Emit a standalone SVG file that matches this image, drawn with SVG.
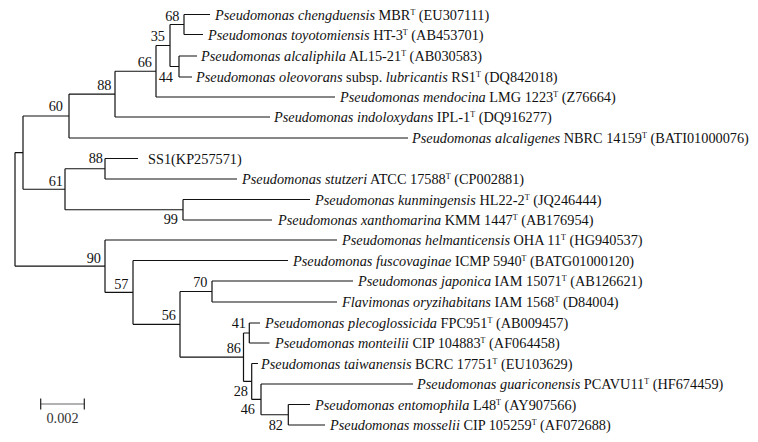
<svg xmlns="http://www.w3.org/2000/svg" width="758" height="442" viewBox="0 0 758 442">
<style>
text{font-family:"Liberation Serif","Times New Roman",serif;font-size:14.3px;fill:#111}
.i{font-style:italic}
.s{font-size:8px}
.b{text-anchor:end}
#edges path{fill:none;stroke:#111;stroke-width:1.2}
</style>
<rect width="758" height="442" fill="#fff"/>
<g id="edges">
<path d="M15 152.6V266.2M15 152.6H23M15 266.2H105"/>
<path d="M23 116V189.25M23 116H69M23 189.25H65"/>
<path d="M69 94.1V138M69 94.1H115M69 138H408"/>
<path d="M115 71.25V117M115 71.25H156M115 117H270"/>
<path d="M156 45.5V97M156 45.5H170M156 97H335"/>
<path d="M170 24.5V66.5M170 24.5H184M170 66.5H179"/>
<path d="M184 14.5V34.5M184 14.5H210M184 34.5H203"/>
<path d="M179 56V77M179 56H197M179 77H192"/>
<path d="M65 168.75V209.75M65 168.75H105M65 209.75H183"/>
<path d="M105 158.5V179M105 158.5H138M105 179H237"/>
<path d="M183 199.5V220M183 199.5H310M183 220H272"/>
<path d="M105 240V292.4M105 240H337M105 292.4H133"/>
<path d="M133 260.5V324.35M133 260.5H288M133 324.35H180"/>
<path d="M180 291.5V357.2M180 291.5H212M180 357.2H243.5"/>
<path d="M212 281V302M212 281H353M212 302H337"/>
<path d="M243.5 333V381.4M243.5 333H249.3M243.5 381.4H251.7"/>
<path d="M249.3 323V343M249.3 323H260M249.3 343H269.5"/>
<path d="M251.7 363.5V399.4M251.7 363.5H258M251.7 399.4H261"/>
<path d="M261 384V414.75M261 384H413M261 414.75H288.3"/>
<path d="M288.3 404.5V425M288.3 404.5H310M288.3 425H325"/>
</g>
<g id="leaf-chengduensis"><text x="215" y="19.5"><tspan class="i">Pseudomonas chengduensis</tspan> MBR<tspan class="s" dy="-5">T</tspan><tspan dy="5"> (EU307111)</tspan></text></g>
<g id="leaf-toyotomiensis"><text x="208" y="39.5"><tspan class="i">Pseudomonas toyotomiensis</tspan> HT-3<tspan class="s" dy="-5">T</tspan><tspan dy="5"> (AB453701)</tspan></text></g>
<g id="leaf-alcaliphila"><text x="201" y="61"><tspan class="i">Pseudomonas alcaliphila</tspan> AL15-21<tspan class="s" dy="-5">T</tspan><tspan dy="5"> (AB030583)</tspan></text></g>
<g id="leaf-oleovorans"><text x="196" y="82"><tspan class="i">Pseudomonas oleovorans</tspan> subsp. <tspan class="i">lubricantis</tspan> RS1<tspan class="s" dy="-5">T</tspan><tspan dy="5"> (DQ842018)</tspan></text></g>
<g id="leaf-mendocina"><text x="340" y="102"><tspan class="i">Pseudomonas mendocina</tspan> LMG 1223<tspan class="s" dy="-5">T</tspan><tspan dy="5"> (Z76664)</tspan></text></g>
<g id="leaf-indoloxydans"><text x="274" y="122"><tspan class="i">Pseudomonas indoloxydans</tspan> IPL-1<tspan class="s" dy="-5">T</tspan><tspan dy="5"> (DQ916277)</tspan></text></g>
<g id="leaf-alcaligenes"><text x="412" y="143"><tspan class="i">Pseudomonas alcaligenes</tspan> NBRC 14159<tspan class="s" dy="-5">T</tspan><tspan dy="5"> (BATI01000076)</tspan></text></g>
<g id="leaf-SS1"><text x="148" y="163.5">SS1(KP257571)</text></g>
<g id="leaf-stutzeri"><text x="242" y="184"><tspan class="i">Pseudomonas stutzeri</tspan> ATCC 17588<tspan class="s" dy="-5">T</tspan><tspan dy="5"> (CP002881)</tspan></text></g>
<g id="leaf-kunmingensis"><text x="315" y="204.5"><tspan class="i">Pseudomonas kunmingensis</tspan> HL22-2<tspan class="s" dy="-5">T</tspan><tspan dy="5"> (JQ246444)</tspan></text></g>
<g id="leaf-xanthomarina"><text x="278" y="225"><tspan class="i">Pseudomonas xanthomarina</tspan> KMM 1447<tspan class="s" dy="-5">T</tspan><tspan dy="5"> (AB176954)</tspan></text></g>
<g id="leaf-helmanticensis"><text x="342" y="245"><tspan class="i">Pseudomonas helmanticensis</tspan> OHA 11<tspan class="s" dy="-5">T</tspan><tspan dy="5"> (HG940537)</tspan></text></g>
<g id="leaf-fuscovaginae"><text x="293" y="265.5"><tspan class="i">Pseudomonas fuscovaginae</tspan> ICMP 5940<tspan class="s" dy="-5">T</tspan><tspan dy="5"> (BATG01000120)</tspan></text></g>
<g id="leaf-japonica"><text x="358" y="286"><tspan class="i">Pseudomonas japonica</tspan> IAM 15071<tspan class="s" dy="-5">T</tspan><tspan dy="5"> (AB126621)</tspan></text></g>
<g id="leaf-oryzihabitans"><text x="342" y="307"><tspan class="i">Flavimonas oryzihabitans</tspan> IAM 1568<tspan class="s" dy="-5">T</tspan><tspan dy="5"> (D84004)</tspan></text></g>
<g id="leaf-plecoglossicida"><text x="265" y="328"><tspan class="i">Pseudomonas plecoglossicida</tspan> FPC951<tspan class="s" dy="-5">T</tspan><tspan dy="5"> (AB009457)</tspan></text></g>
<g id="leaf-monteilii"><text x="275" y="348"><tspan class="i">Pseudomonas monteilii</tspan> CIP 104883<tspan class="s" dy="-5">T</tspan><tspan dy="5"> (AF064458)</tspan></text></g>
<g id="leaf-taiwanensis"><text x="261" y="368.5"><tspan class="i">Pseudomonas taiwanensis</tspan> BCRC 17751<tspan class="s" dy="-5">T</tspan><tspan dy="5"> (EU103629)</tspan></text></g>
<g id="leaf-guariconensis"><text x="417" y="389"><tspan class="i">Pseudomonas guariconensis</tspan> PCAVU11<tspan class="s" dy="-5">T</tspan><tspan dy="5"> (HF674459)</tspan></text></g>
<g id="leaf-entomophila"><text x="315" y="409.5"><tspan class="i">Pseudomonas entomophila</tspan> L48<tspan class="s" dy="-5">T</tspan><tspan dy="5"> (AY907566)</tspan></text></g>
<g id="leaf-mosselii"><text x="330" y="430"><tspan class="i">Pseudomonas mosselii</tspan> CIP 105259<tspan class="s" dy="-5">T</tspan><tspan dy="5"> (AF072688)</tspan></text></g>
<g id="node-68"><text class="b" x="179.5" y="20.5">68</text></g>
<g id="node-35"><text class="b" x="165" y="41">35</text></g>
<g id="node-66"><text class="b" x="152" y="67">66</text></g>
<g id="node-44"><text class="b" x="173" y="82">44</text></g>
<g id="node-88a"><text class="b" x="111.5" y="90">88</text></g>
<g id="node-60"><text class="b" x="63" y="111">60</text></g>
<g id="node-88b"><text class="b" x="103" y="163">88</text></g>
<g id="node-61"><text class="b" x="63" y="186">61</text></g>
<g id="node-99"><text class="b" x="178" y="224">99</text></g>
<g id="node-90"><text class="b" x="101" y="263">90</text></g>
<g id="node-57"><text class="b" x="128.5" y="288.5">57</text></g>
<g id="node-70"><text class="b" x="207.5" y="287">70</text></g>
<g id="node-56"><text class="b" x="176" y="320">56</text></g>
<g id="node-41"><text class="b" x="246" y="328">41</text></g>
<g id="node-86"><text class="b" x="241" y="353">86</text></g>
<g id="node-28"><text class="b" x="248" y="396">28</text></g>
<g id="node-46"><text class="b" x="255" y="414">46</text></g>
<g id="node-82"><text class="b" x="283" y="430">82</text></g>
<g id="scale-bar">
<path d="M40.7 404H84.3" stroke="#999" stroke-width="1.5"/>
<path d="M40.7 398.5V409.5M84.3 398.5V409.5" stroke="#222" stroke-width="1.2"/>
<text x="62.5" y="422.5" text-anchor="middle" style="fill:#333">0.002</text>
</g>
</svg>
